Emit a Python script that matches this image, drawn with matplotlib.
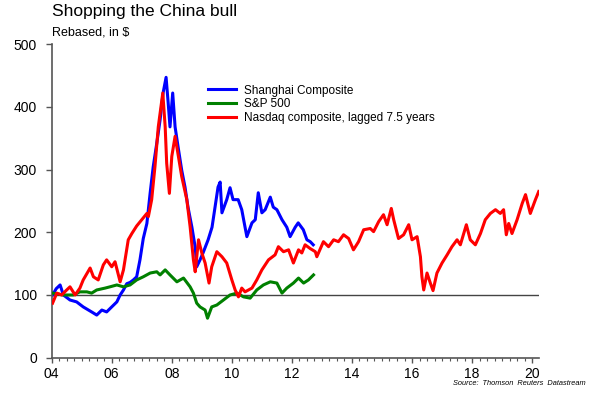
import matplotlib
matplotlib.use("Agg")
import matplotlib.pyplot as plt
from matplotlib.ticker import MultipleLocator

plt.rcParams['font.family'] = ['Liberation Sans', 'DejaVu Sans']

# Shanghai Composite (rebased, in $)
sh_x = [2004.03, 2004.15, 2004.28, 2004.39, 2004.61, 2004.83, 2005.05, 2005.33, 2005.5, 2005.67,
        2005.83, 2006.0, 2006.17, 2006.28, 2006.39, 2006.5, 2006.61, 2006.72, 2006.83, 2006.94,
        2007.05, 2007.17, 2007.28, 2007.38, 2007.5, 2007.61, 2007.71, 2007.81, 2007.88, 2007.94,
        2008.03, 2008.11, 2008.21, 2008.33, 2008.44, 2008.54, 2008.67, 2008.78, 2008.83, 2008.94,
        2009.04, 2009.21, 2009.34, 2009.44, 2009.54, 2009.61, 2009.67, 2009.83, 2009.94, 2010.04,
        2010.21, 2010.33, 2010.44, 2010.5, 2010.67, 2010.78, 2010.88, 2011.0, 2011.11, 2011.28,
        2011.38, 2011.5, 2011.67, 2011.83, 2011.94, 2012.11, 2012.21, 2012.38, 2012.5, 2012.61,
        2012.71]
sh_y = [100, 110, 116, 100, 92, 89, 81, 73, 68, 76,
        73, 81, 89, 100, 108, 118, 120, 124, 129, 156,
        190, 214, 263, 304, 342, 379, 422, 447, 406, 368,
        422, 368, 336, 299, 272, 240, 208, 176, 145, 156,
        167, 188, 208, 240, 272, 280, 231, 252, 271, 252,
        252, 236, 208, 193, 215, 220, 263, 231, 236, 256,
        240, 236, 220, 208, 193, 208, 215, 204, 188, 185,
        180]

# S&P 500
sp_x = [2004.03, 2004.39, 2004.72, 2004.94, 2005.17, 2005.33, 2005.5, 2005.78, 2005.94, 2006.17,
        2006.39, 2006.61, 2006.83, 2007.05, 2007.28, 2007.5, 2007.61, 2007.78, 2007.94, 2008.17,
        2008.39, 2008.61, 2008.72, 2008.83, 2008.94, 2009.11, 2009.19, 2009.33, 2009.5, 2009.72,
        2009.94, 2010.17, 2010.39, 2010.61, 2010.83, 2011.05, 2011.28, 2011.5, 2011.67, 2011.83,
        2012.05, 2012.22, 2012.39, 2012.55, 2012.72]
sp_y = [103, 100, 100, 105, 105, 103, 108, 111, 113, 116,
        113, 116, 124, 129, 135, 137, 132, 140, 132, 121,
        127, 113, 103, 87, 81, 76, 63, 81, 84, 92,
        100, 103, 97, 95, 108, 116, 121, 119, 103, 111,
        119, 127, 119, 124, 132]

# Nasdaq composite, lagged 7.5 years
nq_x = [2004.03, 2004.17, 2004.33, 2004.5, 2004.61, 2004.78, 2004.94, 2005.05, 2005.28, 2005.39,
        2005.55, 2005.72, 2005.83, 2006.0, 2006.11, 2006.28, 2006.39, 2006.55, 2006.67, 2006.83,
        2007.0, 2007.17, 2007.22, 2007.33, 2007.44, 2007.55, 2007.7, 2007.78, 2007.83, 2007.92,
        2008.0, 2008.11, 2008.22, 2008.33, 2008.5, 2008.61, 2008.72, 2008.78, 2008.89, 2009.0,
        2009.11, 2009.24, 2009.33, 2009.5, 2009.67, 2009.83, 2010.0, 2010.11, 2010.22, 2010.33,
        2010.44, 2010.67, 2010.83, 2011.0, 2011.22, 2011.44, 2011.55, 2011.72, 2011.89, 2012.05,
        2012.22, 2012.33, 2012.44, 2012.61, 2012.78, 2012.83, 2013.05, 2013.22, 2013.39, 2013.55,
        2013.72, 2013.89, 2014.05, 2014.22, 2014.39, 2014.61, 2014.72, 2014.89, 2015.05, 2015.17,
        2015.31, 2015.39, 2015.55, 2015.72, 2015.89, 2016.0, 2016.17, 2016.28, 2016.33, 2016.39,
        2016.5, 2016.61, 2016.7, 2016.83, 2017.0, 2017.17, 2017.33, 2017.5, 2017.61, 2017.81,
        2017.94, 2018.11, 2018.28, 2018.44, 2018.61, 2018.78, 2018.94, 2019.05, 2019.14, 2019.22,
        2019.33, 2019.5, 2019.67, 2019.78, 2019.94, 2020.11, 2020.22]
nq_y = [87, 103, 100, 108, 113, 100, 111, 124, 143, 129,
        124, 148, 156, 145, 153, 121, 140, 188, 198, 210,
        220, 230, 225, 252, 305, 368, 422, 368, 310, 262,
        321, 353, 321, 289, 252, 209, 156, 137, 188, 167,
        151, 119, 145, 169, 161, 151, 124, 108, 97, 111,
        105, 111, 124, 140, 156, 164, 177, 169, 172, 151,
        172, 167, 180, 174, 169, 161, 185, 177, 188, 185,
        196, 190, 172, 185, 204, 206, 201, 217, 228, 212,
        238, 220, 190, 196, 212, 188, 193, 161, 129, 108,
        135, 119, 107, 135, 151, 164, 177, 188, 180, 212,
        188, 180, 198, 220, 230, 236, 230, 236, 196, 214,
        198, 220, 246, 260, 230, 252, 265]

labels = ['Shanghai Composite', 'S&P 500', 'Nasdaq composite, lagged 7.5 years']
year_ticks = [2004, 2006, 2008, 2010, 2012, 2014, 2016, 2018, 2020]
year_labels = ['04', '06', '08', '10', '12', '14', '16', '18', '20']

fig = plt.figure(figsize=(5.9, 3.93), dpi=100)
ax = fig.add_axes([0.0876, 0.0898, 0.826, 0.798])

ax.axhline(100, color='#444444', lw=1, zorder=1)
ax.plot(sh_x, sh_y, color='#0000ff', lw=2.2, label=labels[0], zorder=2)
ax.plot(sp_x, sp_y, color='#008000', lw=2.2, label=labels[1], zorder=3)
ax.plot(nq_x, nq_y, color='#ff0000', lw=2.2, label=labels[2], zorder=4)

ax.set_xlim(2004, 2020.23)
ax.set_ylim(0, 500)
ax.set_xticks(year_ticks)
ax.set_xticklabels(year_labels)
ax.xaxis.set_minor_locator(MultipleLocator(0.25))
ax.yaxis.set_major_locator(MultipleLocator(100))

for s in ['top', 'right']:
    ax.spines[s].set_visible(False)
for s in ['left', 'bottom']:
    ax.spines[s].set_color('#555555')
    ax.spines[s].set_linewidth(1.2)

ax.tick_params(axis='y', direction='out', length=4, width=1, color='#555555', pad=6.5, labelsize=10)
ax.tick_params(axis='x', which='major', direction='out', length=3.5, width=1, color='#555555', pad=3, labelsize=10)
ax.tick_params(axis='x', which='minor', direction='out', length=2, width=0.8, color='#555555')

fig.legend(loc='upper left', bbox_to_anchor=(0.342, 0.80), frameon=False, fontsize=8.5,
           borderpad=0, handlelength=2.4, handletextpad=0.7, labelspacing=0.14)

fig.text(0.0876, 0.972, 'Shopping the China bull', fontsize=12.5, va='center', ha='left')
fig.text(0.0876, 0.918, 'Rebased, in $', fontsize=9, va='center', ha='left')
fig.text(0.993, 0.023, 'Source:  Thomson  Reuters  Datastream', fontsize=5.3, style='italic',
         ha='right', va='center')

fig.savefig('out.png', dpi=100)
